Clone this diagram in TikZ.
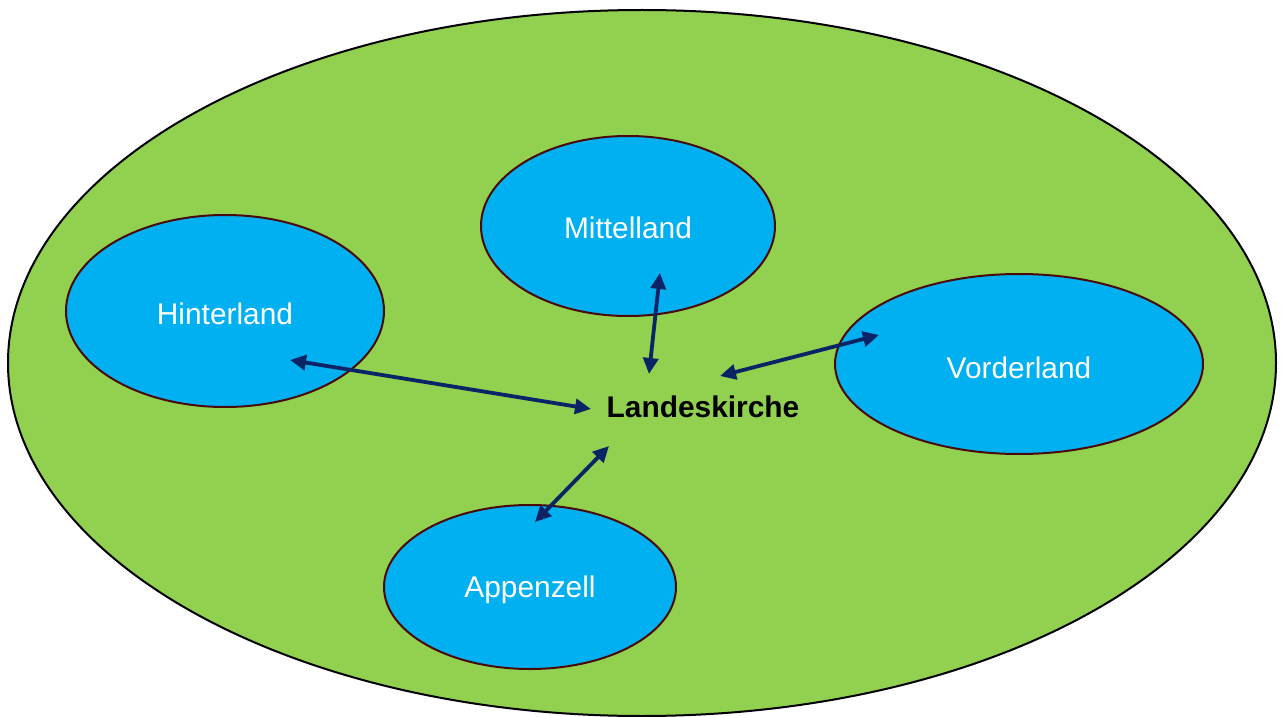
\documentclass[tikz,border=0pt]{standalone}
\usepackage{fontspec}
\setmainfont{Liberation Sans}
\usetikzlibrary{arrows.meta}
\definecolor{bgreen}{HTML}{92D050}
\definecolor{sblue}{HTML}{00B0F0}
\definecolor{rimred}{HTML}{4A0A0A}
\definecolor{navy}{HTML}{0A2466}
\tikzset{
  region/.style={draw=rimred, line width=2bp, fill=sblue},
  regionlabel/.style={text=white, font=\fontsize{30}{34}\selectfont},
  link/.style={draw=navy, line width=3.8bp, {Triangle[length=16bp,width=15bp]}-{Triangle[length=16bp,width=15bp]}}
}
\begin{document}
\begin{tikzpicture}[x=1bp,y=-1bp]
\useasboundingbox (0,0) rectangle (1282,717);
\draw[fill=bgreen, draw=black, line width=2bp] (642,363) ellipse [x radius=634, y radius=353];
\draw[region] (225,311) ellipse [x radius=159, y radius=96];
\draw[region] (628,226) ellipse [x radius=147, y radius=90];
\draw[region] (1019,364) ellipse [x radius=184, y radius=90];
\draw[region] (530,587) ellipse [x radius=146, y radius=82];
\node[regionlabel] (hint) at (225,314) {Hinterland};
\node[regionlabel] (mitt) at (628,228) {Mittelland};
\node[regionlabel] (vord) at (1019,368) {Vorderland};
\node[regionlabel] (app) at (530,590) {Appenzell};
\node[font=\bfseries\fontsize{30}{34}\selectfont] (lk) at (703,407) {Landeskirche};
\coordinate (h1) at (290,360); \coordinate (h2) at (591,409);
\coordinate (m1) at (660,273); \coordinate (m2) at (649,374);
\coordinate (v1) at (720,376); \coordinate (v2) at (879,335);
\coordinate (a1) at (609,446); \coordinate (a2) at (535,522);
\draw[link] (h1) -- (h2);
\draw[link] (m1) -- (m2);
\draw[link] (v1) -- (v2);
\draw[link] (a1) -- (a2);
\end{tikzpicture}
\end{document}
